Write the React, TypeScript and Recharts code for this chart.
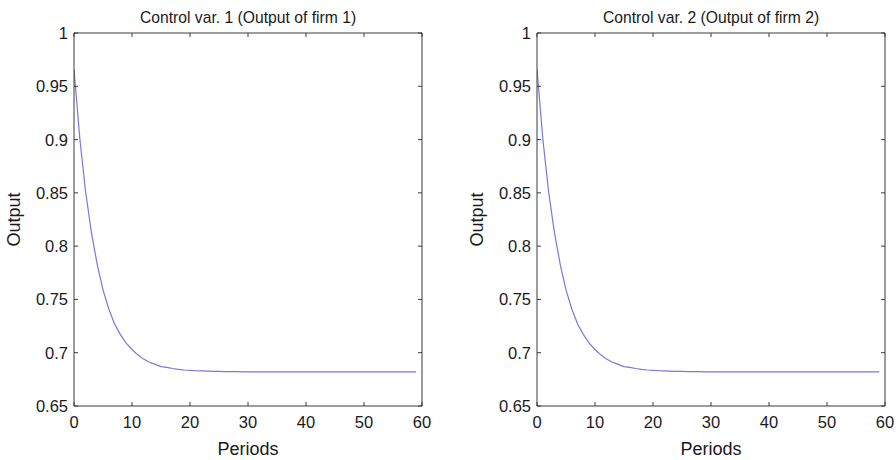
import React from "react";
import { LineChart, Line, XAxis, YAxis, Label } from "recharts";

const periods: number[] = [
  0, 1, 2, 3, 4, 5, 6, 7, 8, 9, 10, 11, 12, 13, 14, 15, 16, 17, 18, 19,
  20, 21, 22, 23, 24, 25, 26, 27, 28, 29, 30, 31, 32, 33, 34, 35, 36, 37, 38, 39,
  40, 41, 42, 43, 44, 45, 46, 47, 48, 49, 50, 51, 52, 53, 54, 55, 56, 57, 58, 59,
];

const firm1Output: number[] = [
  0.966, 0.901, 0.851, 0.813, 0.783, 0.759, 0.741, 0.727, 0.717, 0.709,
  0.703, 0.698, 0.694, 0.691, 0.689, 0.687, 0.6862, 0.6852, 0.6844, 0.6838,
  0.6834, 0.6831, 0.6829, 0.6827, 0.6825, 0.6824, 0.6823, 0.6822, 0.6822, 0.6821,
  0.6821, 0.6821, 0.682, 0.682, 0.682, 0.682, 0.682, 0.682, 0.682, 0.682,
  0.682, 0.682, 0.682, 0.682, 0.682, 0.682, 0.682, 0.682, 0.682, 0.682,
  0.682, 0.682, 0.682, 0.682, 0.682, 0.682, 0.682, 0.682, 0.682, 0.682,
];

const firm2Output: number[] = [
  0.966, 0.901, 0.851, 0.813, 0.783, 0.759, 0.741, 0.727, 0.717, 0.709,
  0.703, 0.698, 0.694, 0.691, 0.689, 0.687, 0.6862, 0.6852, 0.6844, 0.6838,
  0.6834, 0.6831, 0.6829, 0.6827, 0.6825, 0.6824, 0.6823, 0.6822, 0.6822, 0.6821,
  0.6821, 0.6821, 0.682, 0.682, 0.682, 0.682, 0.682, 0.682, 0.682, 0.682,
  0.682, 0.682, 0.682, 0.682, 0.682, 0.682, 0.682, 0.682, 0.682, 0.682,
  0.682, 0.682, 0.682, 0.682, 0.682, 0.682, 0.682, 0.682, 0.682, 0.682,
];

const xTicks: number[] = [0, 10, 20, 30, 40, 50, 60];
const yTicks: number[] = [0.65, 0.7, 0.75, 0.8, 0.85, 0.9, 0.95, 1];
const titles: string[] = ["Control var. 1 (Output of firm 1)", "Control var. 2 (Output of firm 2)"];
const xLabel = "Periods";
const yLabel = "Output";

const FONT = "'Liberation Sans', Arial, sans-serif";
const AXIS = "#3a3a3a";
const LINE = "#7878da";
const TXT = "#1a1a1a";
const TICK_FS = 16.5;
const TL = 4;
const Y_MARGIN = 6;
const X_MARGIN = 9;

function LeftTick(props: any) {
  const { x, y, payload } = props;
  const ax = x + Y_MARGIN;
  return (
    <g>
      <line x1={ax} x2={ax + TL} y1={y} y2={y} stroke={AXIS} />
      <text x={x} y={y} dy="0.36em" textAnchor="end" fontSize={TICK_FS} fontFamily={FONT} fill={TXT}>
        {String(payload.value)}
      </text>
    </g>
  );
}

function BottomTick(props: any) {
  const { x, y, payload } = props;
  const ay = y - X_MARGIN;
  return (
    <g>
      <line x1={x} x2={x} y1={ay} y2={ay - TL} stroke={AXIS} />
      <text x={x} y={y} dy="0.76em" textAnchor="middle" fontSize={TICK_FS} fontFamily={FONT} fill={TXT}>
        {String(payload.value)}
      </text>
    </g>
  );
}

function TopTick(props: any) {
  const { x, y } = props;
  return <line x1={x} x2={x} y1={y} y2={y + TL} stroke={AXIS} />;
}

function RightTick(props: any) {
  const { x, y } = props;
  return <line x1={x - TL} x2={x} y1={y} y2={y} stroke={AXIS} />;
}

function TitleLabel(props: any) {
  const vb = props.viewBox || {};
  return (
    <text x={vb.x + vb.width / 2} y={23} textAnchor="middle" fontSize={15.7} fontFamily={FONT} fill={TXT}>
      {props.value}
    </text>
  );
}

function XLabel(props: any) {
  const vb = props.viewBox || {};
  return (
    <text x={vb.x + vb.width / 2} y={455} textAnchor="middle" fontSize={18} fontFamily={FONT} fill={TXT}>
      {props.value}
    </text>
  );
}

function YLabelC(props: any) {
  const vb = props.viewBox || {};
  const cx = vb.x + vb.width - 54;
  const cy = vb.y + vb.height / 2;
  return (
    <text
      x={cx}
      y={cy}
      transform={`rotate(-90, ${cx}, ${cy})`}
      textAnchor="middle"
      fontSize={18}
      fontFamily={FONT}
      fill={TXT}
    >
      {props.value}
    </text>
  );
}

function Panel({ values, title, leftW, rightM }: { values: number[]; title: string; leftW: number; rightM: number }) {
  const data = periods.map((p, i) => ({ period: p, output: values[i] }));
  return (
    <LineChart width={448} height={460} data={data} margin={{ top: 32, right: rightM - 1, bottom: 0, left: 0 }}>
      <XAxis
        xAxisId="b"
        dataKey="period"
        type="number"
        domain={[0, 60]}
        ticks={xTicks}
        allowDataOverflow
        height={54}
        stroke={AXIS}
        tickLine={false}
        tickSize={0}
        tickMargin={X_MARGIN}
        tick={<BottomTick />}
        interval={0}
      >
        <Label value={xLabel} content={<XLabel />} />
      </XAxis>
      <XAxis
        xAxisId="t"
        orientation="top"
        dataKey="period"
        type="number"
        domain={[0, 60]}
        ticks={xTicks}
        allowDataOverflow
        height={1}
        stroke={AXIS}
        tickLine={false}
        tickSize={0}
        tickMargin={0}
        tick={<TopTick />}
        interval={0}
      >
        <Label value={title} content={<TitleLabel />} />
      </XAxis>
      <YAxis
        yAxisId="l"
        type="number"
        domain={[0.65, 1]}
        ticks={yTicks}
        allowDataOverflow
        width={leftW}
        stroke={AXIS}
        tickLine={false}
        tickSize={0}
        tickMargin={Y_MARGIN}
        tick={<LeftTick />}
        interval={0}
      >
        <Label value={yLabel} content={<YLabelC />} />
      </YAxis>
      <YAxis
        yAxisId="r"
        orientation="right"
        type="number"
        domain={[0.65, 1]}
        ticks={yTicks}
        allowDataOverflow
        width={1}
        stroke={AXIS}
        tickLine={false}
        tickSize={0}
        tickMargin={0}
        tick={<RightTick />}
        interval={0}
      />
      <Line
        xAxisId="b"
        yAxisId="l"
        type="linear"
        dataKey="output"
        stroke={LINE}
        strokeWidth={1.2}
        dot={false}
        isAnimationActive={false}
      />
    </LineChart>
  );
}

export default function App() {
  return (
    <div style={{ position: "absolute", left: 0, top: 0, width: 896, height: 460, background: "#fff", overflow: "hidden" }}>
      <div style={{ position: "absolute", left: 0, top: 0 }}>
        <Panel values={firm1Output} title={titles[0]} leftW={74} rightM={26} />
      </div>
      <div style={{ position: "absolute", left: 448, top: 0 }}>
        <Panel values={firm2Output} title={titles[1]} leftW={89} rightM={11} />
      </div>
    </div>
  );
}
